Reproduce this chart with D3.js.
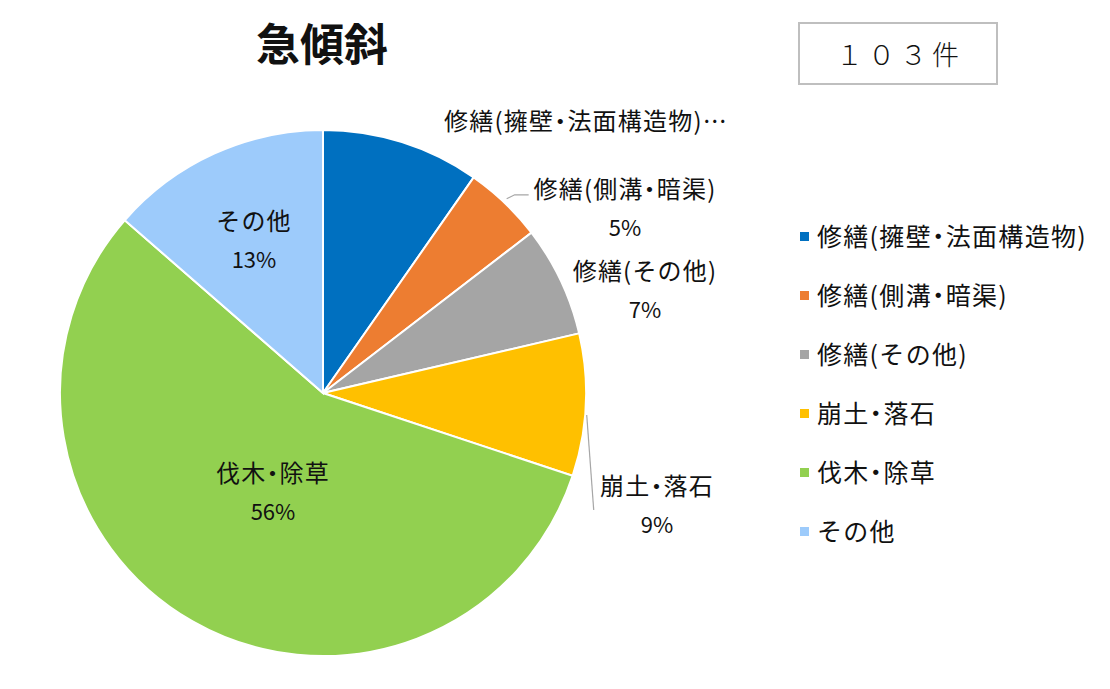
<!DOCTYPE html>
<html>
    <head>
        <meta charset="utf-8">
        <script src="https://d3js.org/d3.v7.min.js"></script>
        <style>
            body{margin:0;background:#fff;}
            text{font-family:"Noto Sans CJK JP","Noto Sans",sans-serif;fill:#111;font-feature-settings:"halt";}
        </style>
    </head>
    <body>
        <script>
            var categories = ["修繕(擁壁・法面構造物)","修繕(側溝・暗渠)","修繕(その他)","崩土・落石","伐木・除草","その他"];
            var counts = [10,5,7,9,58,14];
            var pctLabels = ["10%","5%","7%","9%","56%","13%"];
            var colors = ["#0070C0","#ED7D31","#A5A5A5","#FFC000","#92D050","#9DCBFB"];
            var total = "１０３件";

            var w = 1110;
            var h = 689;
            var cx = 323, cy = 393, r = 263;

            var svg = d3.select('body').append('svg').attr('width',w).attr('height',h);

            var pie = d3.pie().sort(null).value(function(d){return d;});
            var arcs = pie(counts);
            var arc = d3.arc().innerRadius(0).outerRadius(r);
            var color = d3.scaleOrdinal().domain(categories).range(colors);

            var g = svg.append("g").attr("transform","translate("+cx+","+cy+")");
            g.selectAll("path").data(arcs).enter().append("path")
                .attr("d",arc)
                .attr("fill",function(d,i){return color(categories[i]);})
                .attr("stroke","#fff").attr("stroke-width",2);

            // data label positions (relative to center) - Excel style best fit
            var labelPos = [
                {x:263,y:-263,pct:false,text:"修繕(擁壁・法面構造物)…"},
                {x:302,y:-195},
                {x:322,y:-113},
                {x:334,y:102},
                {x:-50,y:89},
                {x:-69,y:-163}
            ];
            arcs.forEach(function(a,i){
                var p = labelPos[i];
                var t = g.append("text").attr("text-anchor","middle").style("font-size","24px");
                t.append("tspan").attr("x",p.x).attr("y",p.y).style("letter-spacing","1.2px").text(p.text || categories[i]);
                if(p.pct !== false){
                    t.append("tspan").attr("x",p.x).attr("y",p.y+38).style("font-size","22px").text(pctLabels[i]);
                }
            });

            // leader lines
            var o1 = d3.arc().innerRadius(r).outerRadius(r).centroid(arcs[1]);
            g.append("path").attr("fill","none").attr("stroke","#A6A6A6").attr("stroke-width",1.2)
                .attr("d","M"+(o1[0]+2)+","+(o1[1]-4)+"L"+(o1[0]+10)+","+(o1[1]-8)+"L"+(o1[0]+24)+","+(o1[1]-8));
            var o3 = d3.arc().innerRadius(r).outerRadius(r).centroid(arcs[3]);
            g.append("path").attr("fill","none").attr("stroke","#A6A6A6").attr("stroke-width",1.2)
                .attr("d","M"+(o3[0]+1)+","+(o3[1]+10)+"L"+(o3[0]+8)+","+(o3[1]+105));

            // title
            svg.append("text").attr("x",322).attr("y",61).attr("text-anchor","middle")
                .style("font-size","44px").style("font-weight","bold").text("急傾斜");

            // total box
            svg.append("rect").attr("x",799).attr("y",23).attr("width",198).attr("height",61)
                .attr("fill","#fff").attr("stroke","#BFBFBF").attr("stroke-width",2);
            svg.append("text").attr("x",900).attr("y",65).attr("text-anchor","middle")
                .style("font-size","27px").style("font-weight","300").style("font-feature-settings","normal")
                .style("letter-spacing","5px").text(total);

            // legend
            var legend = svg.append("g").attr("transform","translate(800,237)");
            var items = legend.selectAll("g").data(categories).enter().append("g")
                .attr("transform",function(d,i){return "translate(0,"+(i*59)+")";});
            items.append("rect").attr("x",0).attr("y",-5).attr("width",9).attr("height",9)
                .attr("fill",function(d){return color(d);});
            items.append("text").attr("x",17).attr("y",9).style("font-size","25px")
                .style("letter-spacing","1.3px").text(function(d){return d;});
        </script>
    </body>
</html>
